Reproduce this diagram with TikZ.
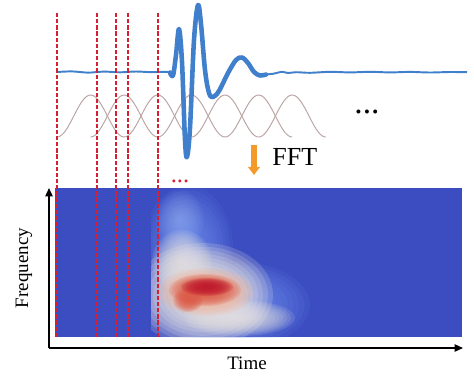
\documentclass[tikz,border=0pt]{standalone}
\usepackage{fontspec}
\setmainfont{Liberation Serif}
\usetikzlibrary{arrows.meta}
\definecolor{cwblue}{HTML}{3C4DC1}
\definecolor{cwlb}{HTML}{7B9FF9}
\definecolor{cwlb2}{HTML}{9DB8F6}
\definecolor{cwwhite}{HTML}{E8E3E0}
\definecolor{cwpeach}{HTML}{F2B297}
\definecolor{cwred}{HTML}{DC5A48}
\definecolor{cwdeep}{HTML}{C01A2E}
\definecolor{sigblue}{HTML}{3F7FCC}
\definecolor{winbrown}{HTML}{BBA3A3}
\definecolor{dashred}{HTML}{D42030}
\definecolor{fftorange}{HTML}{F39A2B}
\newcommand{\heatblob}[6]{\foreach \hb in {1,...,14}{\fill[#5, opacity=#6] (#1,#2) ellipse ({#3*\hb/14} and {#4*\hb/14});}}
\tikzset{
  sig/.style={draw=sigblue, line width=2.6pt, line join=round, line cap=round},
  sigthin/.style={draw=sigblue, line width=1.1pt, line join=round},
  win/.style={draw=winbrown, line width=0.55pt},
  guide/.style={draw=dashred, line width=1.05pt, dash pattern=on 2.4pt off 1.1pt},
  axis/.style={draw=black, line width=0.85pt, -{Triangle[length=4.8pt,width=4.2pt]}},
  lbl/.style={inner sep=0pt, font=\fontsize{10.8}{12}\selectfont},
}
\begin{document}
\begin{tikzpicture}[x=0.02cm,y=-0.02cm]
\useasboundingbox (0,0) rectangle (474,387);
% spectrogram
\node[fill=cwblue, inner sep=0pt, minimum width=8.14cm, minimum height=2.98cm, anchor=north west] (spec) at (55,188) {};
\begin{scope}
\clip (151,188) rectangle (462,337);
\heatblob{188}{248}{45}{62}{cwlb}{0.08}
\heatblob{232}{305}{78}{44}{cwlb}{0.09}
\heatblob{180}{220}{24}{30}{cwlb2}{0.06}
\heatblob{203}{295}{70}{52}{cwwhite}{0.19}
\heatblob{240}{318}{55}{18}{cwwhite}{0.12}
\heatblob{182}{262}{30}{32}{cwwhite}{0.12}
\heatblob{206}{292}{48}{24}{cwpeach}{0.17}
\heatblob{205}{290}{36}{16}{cwred}{0.19}
\heatblob{188}{300}{15}{12}{cwred}{0.16}
\heatblob{207}{287}{26}{9}{cwdeep}{0.19}
\end{scope}
% axes
\coordinate (O) at (49,348);
\coordinate (ytop) at (49,188);
\coordinate (xend) at (463,348);
\draw[axis] (O) -- (ytop);
\draw[axis] (O) -- (xend);
\node[lbl, anchor=base] (time) at (247,369) {Time};
\node[lbl, rotate=90] (freq) at (24,268) {Frequency};
% windows
\foreach \k in {0,...,6}{
  \draw[win] plot[domain=0:1, samples=40] ({57+33.6*\k+67.2*\x},{137-42*sin(180*\x)^2});
}
% signal
\draw[sigthin] plot[smooth, tension=0.5] coordinates {(57,72) (72,71.4) (88,72.6) (104,71.6) (120,72.3) (136,71.5) (152,72.2) (166,71.8) (170,72.5)};
\draw[sig] plot[smooth, tension=0.55] coordinates {(170,72.5) (173,75.5) (176,55) (179,29) (182,62) (185,140) (187,157) (190,128) (194,40) (198,5) (201,24) (205,70) (209,93) (213,97) (219,91) (228,73) (236,60) (242,57.5) (248,63) (254,72) (260,75.5) (266,74.5)};
\draw[sigthin] plot[smooth, tension=0.5] coordinates {(266,74.5) (274,73.6) (282,71.8) (288,73) (296,72.2) (310,72.8) (330,71.8) (350,72.4) (370,71.8) (390,72.4) (410,71.9) (430,72.5) (450,72) (467,72.2)};
% guides
\foreach \gx in {57,97,116,128,158}{
  \draw[guide] (\gx,13) -- (\gx,337);
}
% dots
\node[inner sep=0pt, anchor=base, font=\fontsize{19}{20}\selectfont] (dots) at (367,113) {...};
\node[inner sep=0pt, anchor=base, text=dashred, font=\fontsize{14}{15}\selectfont] (rdots) at (180,182) {...};
% FFT arrow
\coordinate (fftTop) at (254,145);
\coordinate (fftBot) at (254,175);
\draw[draw=fftorange, line width=3.4pt, -{Triangle[length=4.6pt,width=6.6pt]}] (fftTop) -- (fftBot);
\node[inner sep=0pt, anchor=base west, font=\fontsize{14.8}{16}\selectfont] (fft) at (272,165) {FFT};
\end{tikzpicture}
\end{document}
